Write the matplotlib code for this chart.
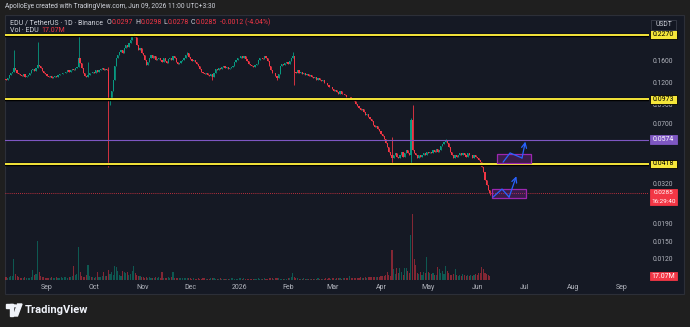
import pandas as pd
import matplotlib
matplotlib.use("Agg")
import matplotlib.pyplot as plt
from matplotlib.patches import Rectangle, Polygon, Circle

W, H = 690, 327
plt.rcParams["font.family"] = ["Roboto", "DejaVu Sans"]

BG_OUT = "#1f1f1f"
BG = "#151924"
UP = "#089981"
DOWN = "#f23645"
TXT = "#d1d4dc"
AXT = "#b2b5be"
YEL = "#f5e63a"
PURP = "#7e57c2"
BLUE = "#2962ff"

start = pd.Timestamp("2025-08-06")

# daily closes EDU/USDT (Binance), 2025-08-06 .. 2026-06-09
closes = (
    # Aug
    [0.126, 0.128, 0.134, 0.138, 0.140, 0.147, 0.143, 0.137, 0.135, 0.134,
     0.132, 0.135, 0.130, 0.132, 0.134, 0.138, 0.143, 0.145, 0.141, 0.147,
     0.153, 0.151, 0.147, 0.141, 0.138, 0.135]
    # Sep
    + [0.132, 0.130, 0.132, 0.128, 0.130, 0.132, 0.130, 0.134, 0.135, 0.135,
       0.137, 0.138, 0.140, 0.143, 0.140, 0.143, 0.145, 0.143, 0.147, 0.149,
       0.167, 0.157, 0.147, 0.138, 0.132, 0.130, 0.134, 0.138, 0.137, 0.140]
    # Oct
    + [0.138, 0.143, 0.140, 0.143, 0.145, 0.147, 0.143, 0.145, 0.143, 0.0965,
       0.099, 0.108, 0.125, 0.150, 0.168, 0.174, 0.181, 0.186, 0.179, 0.190,
       0.198, 0.194, 0.204, 0.212, 0.221, 0.227, 0.219, 0.198, 0.186, 0.190,
       0.179]
    # Nov
    + [0.174, 0.163, 0.153, 0.158, 0.168, 0.174, 0.167, 0.171, 0.163, 0.165,
       0.168, 0.163, 0.158, 0.167, 0.160, 0.157, 0.165, 0.168, 0.163, 0.171,
       0.167, 0.158, 0.155, 0.157, 0.160, 0.163, 0.168, 0.174, 0.178, 0.170]
    # Dec
    + [0.165, 0.160, 0.162, 0.158, 0.155, 0.150, 0.145, 0.140, 0.138, 0.135,
       0.137, 0.134, 0.132, 0.135, 0.130, 0.138, 0.145, 0.142, 0.147, 0.145,
       0.149, 0.151, 0.147, 0.149, 0.145, 0.147, 0.149, 0.151, 0.158, 0.163,
       0.167]
    # Jan
    + [0.168, 0.171, 0.167, 0.172, 0.165, 0.160, 0.155, 0.153, 0.151, 0.149,
       0.152, 0.155, 0.163, 0.167, 0.168, 0.165, 0.171, 0.167, 0.160, 0.150,
       0.143, 0.137, 0.138, 0.132, 0.128, 0.135, 0.151, 0.155, 0.153, 0.157,
       0.158]
    # Feb
    + [0.155, 0.160, 0.167, 0.172, 0.140, 0.138, 0.143, 0.138, 0.140, 0.135,
       0.137, 0.134, 0.135, 0.132, 0.134, 0.130, 0.128, 0.130, 0.126, 0.128,
       0.125, 0.123, 0.125, 0.121, 0.120, 0.117, 0.114, 0.115]
    # Mar
    + [0.111, 0.108, 0.110, 0.107, 0.105, 0.108, 0.104, 0.105, 0.103, 0.101,
       0.100, 0.101, 0.098, 0.097, 0.095, 0.092, 0.089, 0.087, 0.085, 0.086,
       0.082, 0.079, 0.080, 0.077, 0.075, 0.073, 0.070, 0.068, 0.069, 0.066,
       0.064]
    # Apr
    + [0.062, 0.060, 0.058, 0.055, 0.052, 0.049, 0.047, 0.045, 0.047, 0.048,
       0.046, 0.045, 0.047, 0.049, 0.046, 0.048, 0.050, 0.048, 0.047, 0.074,
       0.050, 0.048, 0.047, 0.045, 0.047, 0.046, 0.047, 0.048, 0.047, 0.049]
    # May
    + [0.048, 0.049, 0.048, 0.050, 0.049, 0.051, 0.049, 0.050, 0.053, 0.054,
       0.056, 0.057, 0.055, 0.052, 0.049, 0.047, 0.045, 0.047, 0.046, 0.047,
       0.048, 0.047, 0.048, 0.047, 0.046, 0.048, 0.047, 0.047, 0.045, 0.047,
       0.046]
    # Jun
    + [0.045, 0.044, 0.043, 0.040, 0.0375, 0.034, 0.0317, 0.0297, 0.0285]
)
first_open = 0.127
wick_hi = {5: 0.186, 20: 0.207, 46: 0.222, 52: 0.158, 65: 0.148, 81: 0.233,
           115: 0.182, 182: 0.182, 245: 0.0595, 257: 0.076, 258: 0.091,
           279: 0.058, 307: 0.0298}
wick_lo = {65: 0.040, 66: 0.0905, 131: 0.125, 172: 0.125, 183: 0.117,
           245: 0.0425, 257: 0.0418, 307: 0.0278}

# daily volume, millions EDU
volumes = (
    [12, 10, 14, 18, 17, 90, 25, 15, 12, 10, 8, 9, 12, 10, 8, 9, 11, 43, 20, 25,
     168, 34, 18, 14, 12, 10]
    + [9, 8, 10, 12, 9, 8, 11, 10, 9, 12, 10, 13, 11, 9, 14, 12, 16, 60, 20, 25,
       142, 34, 18, 14, 12, 20, 64, 16, 12, 14]
    + [10, 13, 34, 14, 12, 16, 34, 15, 18, 43, 25, 34, 20, 60, 55, 39, 22, 18,
       39, 35, 30, 34, 22, 25, 40, 60, 30, 20, 16, 18, 14]
    + [12, 10, 11, 9, 12, 10, 8, 9, 11, 10, 12, 9, 34, 10, 8, 9, 11, 10, 12, 34,
       10, 8, 9, 7, 8, 10, 9, 8, 7, 9]
    + [7, 6, 8, 5, 6, 7, 5, 6, 8, 7, 6, 5, 6, 7, 9, 8, 6, 5, 6, 7, 5, 6, 5, 4,
       5, 6, 7, 8, 6, 5, 6]
    + [8, 7, 6, 9, 6, 5, 6, 5, 4, 5, 6, 5, 7, 6, 5, 6, 7, 6, 5, 8, 9, 7, 6, 10,
       8, 7, 6, 5, 6, 5, 6]
    + [7, 10, 14, 30, 12, 9, 7, 6, 5, 6, 7, 5, 6, 5, 4, 5, 6, 5, 6, 7, 5, 6, 5,
       6, 7, 6, 8, 6]
    + [7, 8, 6, 7, 9, 8, 6, 7, 8, 10, 9, 17, 8, 7, 9, 10, 8, 9, 11, 10, 9, 12,
       10, 11, 13, 12, 14, 12, 13, 12, 14]
    + [16, 17, 17, 20, 34, 22, 18, 128, 47, 25, 52, 30, 50, 34, 22, 50, 52, 38,
       30, 192, 282, 90, 64, 30, 25, 34, 22, 34, 30, 98]
    + [34, 30, 25, 28, 22, 20, 55, 47, 30, 38, 25, 60, 38, 30, 22, 20, 25, 47,
       20, 18, 22, 17, 25, 20, 18, 22, 16, 20, 18, 22, 25]
    + [20, 28, 30, 55, 47, 30, 25, 22, 17.07]
)

levels_yellow = [0.2270, 0.0973, 0.0418]
level_purple = 0.0574
last_price = 0.0285
price_ticks = [0.16, 0.12, 0.09, 0.07, 0.032, 0.019, 0.015, 0.012]
month_dates = ["2025-09-01", "2025-10-01", "2025-11-01", "2025-12-01",
               "2026-01-01", "2026-02-01", "2026-03-01", "2026-04-01",
               "2026-05-01", "2026-06-01", "2026-07-01", "2026-08-01",
               "2026-09-01"]
month_labels = ["Sep", "Oct", "Nov", "Dec", "2026", "Feb", "Mar", "Apr",
                "May", "Jun", "Jul", "Aug", "Sep"]

# drawings (day offset from start, price)
box_upper = (311.7, 333.2, 0.0423, 0.0476)
box_lower = (308.5, 330.1, 0.0267, 0.0301)
arrow_upper = [(315.5, 0.0428), (319.9, 0.0483), (327.5, 0.0452), (329.6, 0.0560)]
arrow_lower = [(309.1, 0.0271), (314.8, 0.0301), (319.3, 0.0271), (323.9, 0.0356)]

n = len(closes)
days = list(range(n))
opens = [first_open] + closes[:-1]
highs = [wick_hi.get(i, max(opens[i], closes[i])) for i in days]
lows = [wick_lo.get(i, min(opens[i], closes[i])) for i in days]
colors = [UP if closes[i] >= opens[i] else DOWN for i in days]


def fx(px):
    return px / W


def fy(py):
    return 1 - py / H


fig = plt.figure(figsize=(W / 100, H / 100), dpi=100, facecolor=BG_OUT)
fig.add_artist(Rectangle((fx(5), fy(294)), fx(684) - fx(5), fy(15) - fy(294),
                         transform=fig.transFigure, facecolor=BG,
                         edgecolor="#2c2f38", lw=0.8, zorder=-10))

ax = fig.add_axes([fx(5), fy(280), fx(649) - fx(5), fy(15) - fy(280)])
vax = ax.twinx()
ax.set_zorder(vax.get_zorder() + 1)
ax.patch.set_visible(False)
vax.patch.set_visible(False)

# volume
vax.bar(days, volumes, width=0.7, color=colors, alpha=0.5, lw=0)
vax.set_ylim(0, 1131)
vax.set_yticks([])

# candles
bodies_lo = [min(opens[i], closes[i]) for i in days]
bodies_h = [max(abs(closes[i] - opens[i]), closes[i] * 0.006) for i in days]
ax.vlines(days, lows, highs, colors=colors, lw=0.6, zorder=2)
ax.bar(days, bodies_h, bottom=bodies_lo, width=0.75, color=colors, lw=0, zorder=2)

ax.set_yscale("log")
ax.set_ylim(0.00916, 0.2935)
ax.set_xlim(-0.66, 408.1)
ax.yaxis.set_major_locator(plt.NullLocator())
ax.yaxis.set_minor_locator(plt.NullLocator())

for s in list(ax.spines.values()) + list(vax.spines.values()):
    s.set_visible(False)

month_pos = [(pd.Timestamp(d) - start).days for d in month_dates]
ax.set_xticks(month_pos)
ax.set_xticklabels(month_labels, color=AXT, fontsize=5)
ax.xaxis.set_minor_locator(plt.NullLocator())
ax.tick_params(axis="x", length=0, pad=3)

# levels
for lv in levels_yellow:
    ax.axhline(lv, color="black", lw=2.5, zorder=3)
    ax.axhline(lv, color=YEL, lw=1.4, zorder=4)
ax.axhline(level_purple, color=PURP, lw=0.8, zorder=3)
ax.axhline(last_price, color=DOWN, lw=0.6, ls=(0, (1, 1.5)), zorder=3)

# drawings
for x0, x1, p0, p1 in (box_upper, box_lower):
    ax.add_patch(Rectangle((x0, p0), x1 - x0, p1 - p0, facecolor=(0.61, 0.15, 0.69, 0.28),
                           edgecolor="#9c27b0", lw=0.9, zorder=5))
for pts in (arrow_upper, arrow_lower):
    xs = [p[0] for p in pts]
    ys = [p[1] for p in pts]
    ax.plot(xs[:-1], ys[:-1], color=BLUE, lw=0.9, zorder=6, solid_capstyle="round")
    ax.annotate("", xy=pts[-1], xytext=pts[-2],
                arrowprops=dict(arrowstyle="->", color=BLUE, lw=0.9,
                                mutation_scale=9, shrinkA=0, shrinkB=0), zorder=6)


def ypx(p):
    return H - ax.transData.transform((0, p))[1]


# price scale
for p in price_ticks:
    fig.text(fx(653), fy(ypx(p)), f"{p:.4f}", color=AXT, fontsize=4.9,
             ha="left", va="center")


def tag(y0, y1, lines, fc, tc, ec=None, size=5.0):
    fig.add_artist(Rectangle((fx(649.5), fy(y1)), fx(677) - fx(649.5), fy(y0) - fy(y1),
                             transform=fig.transFigure, facecolor=fc,
                             edgecolor=ec or fc, lw=0.6, zorder=8))
    step = (y1 - y0) / len(lines)
    for k, s in enumerate(lines):
        fig.text(fx(663.3), fy(y0 + step * (k + 0.5)), s, color=tc, fontsize=size,
                 ha="center", va="center", zorder=9)


for lv in levels_yellow:
    yc = ypx(lv)
    tag(yc - 4.3, yc + 4.3, [f"{lv:.4f}"], YEL, "black", "black")
yc = ypx(level_purple)
tag(yc - 4.3, yc + 4.3, [f"{level_purple:.4f}"], PURP, "white")
yc = ypx(last_price)
tag(yc - 4.5, yc + 12, [f"{last_price:.4f}", "16:29:40"], DOWN, "white", size=4.6)
yv = H - vax.transData.transform((0, volumes[-1]))[1]
tag(yv - 4.3, yv + 4.3, [f"{volumes[-1]:.2f}M"], DOWN, "white")

# USDT box
fig.add_artist(Rectangle((fx(651), fy(29.5)), fx(676) - fx(651), fy(20) - fy(29.5),
                         transform=fig.transFigure, facecolor="#131722",
                         edgecolor="#3a3e4a", lw=0.6, zorder=10))
fig.text(fx(663.5), fy(24.8), "USDT", color=TXT, fontsize=4.9, ha="center",
         va="center", zorder=11)

# header texts
fig.text(fx(5), fy(7), "ApolloEye created with TradingView.com, Jun 09, 2026 11:00 UTC+3:30",
         color=TXT, fontsize=4.8, ha="left", va="center")

renderer = fig.canvas.get_renderer()


def chain(x, y, parts):
    for s, c, gap in parts:
        t = fig.text(fx(x), fy(y), s, color=c, fontsize=5, ha="left",
                     va="center", zorder=0.5)
        x += t.get_window_extent(renderer).width + gap


o, c = opens[-1], closes[-1]
chain(10, 22.7, [("EDU / TetherUS · 1D · Binance", TXT, 3.5),
                 ("O", TXT, 0.3), (f"{o:.4f}", DOWN, 2),
                 ("H", TXT, 0.3), (f"{highs[-1]:.4f}", DOWN, 2),
                 ("L", TXT, 0.3), (f"{lows[-1]:.4f}", DOWN, 2),
                 ("C", TXT, 0.3), (f"{c:.4f}", DOWN, 3),
                 (f"{c - o:.4f} ({(c - o) / o * 100:.2f}%)", DOWN, 0)])
chain(10, 31, [("Vol · EDU", TXT, 3), (f"{volumes[-1]:.2f}M", DOWN, 0)])

# TradingView logo
logo = "#f0f3fa"
fig.add_artist(Rectangle((fx(6), fy(307.5)), fx(12.5) - fx(6), fy(304) - fy(307.5),
                         transform=fig.transFigure, color=logo))
fig.add_artist(Rectangle((fx(9.5), fy(316)), fx(12.5) - fx(9.5), fy(304) - fy(316),
                         transform=fig.transFigure, color=logo))
fig.add_artist(Circle((fx(15), fy(305.8)), 1.7 / W, transform=fig.transFigure, color=logo))
fig.add_artist(Polygon([(fx(17.5), fy(304)), (fx(22), fy(304)), (fx(17.5), fy(316)),
                        (fx(13.5), fy(316))], closed=True, transform=fig.transFigure,
                       color=logo))
fig.text(fx(25), fy(310), "TradingView", color=logo, fontsize=8, fontweight="bold",
         ha="left", va="center")

fig.savefig("out.png", dpi=100, facecolor=fig.get_facecolor())
